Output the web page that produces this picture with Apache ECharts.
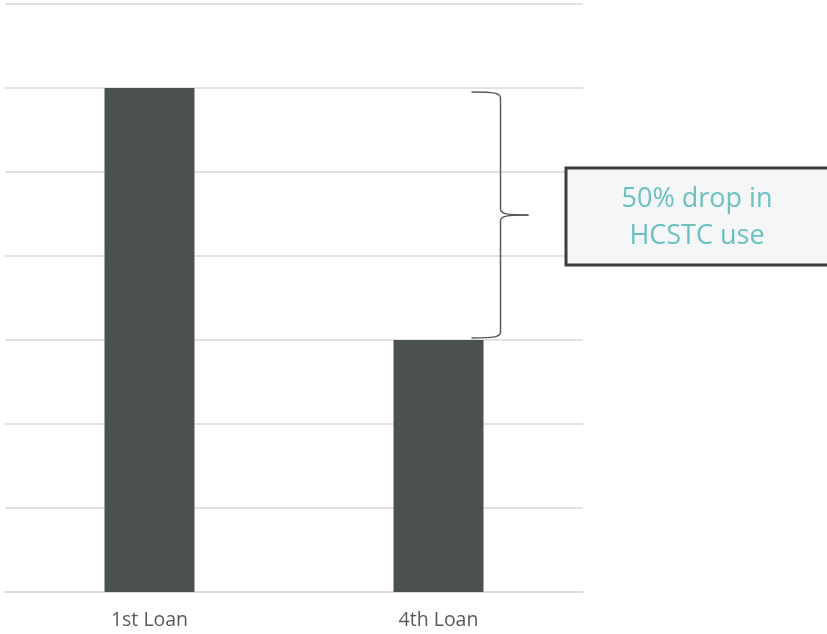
<!DOCTYPE html>
<html>
<head>
<meta charset="utf-8">
<script src="https://cdn.jsdelivr.net/npm/echarts@6/dist/echarts.min.js"></script>
<style>html,body{margin:0;padding:0;background:#fff;}#c{width:827px;height:634px;}</style>
</head>
<body>
<div id="c"></div>
<script>
var categories = ['1st Loan', '4th Loan'];
var values = [6, 3];
var annotationText = ['50% drop in', 'HCSTC use'];

var chart = echarts.init(document.getElementById('c'), null, {renderer: 'canvas'});
chart.setOption({
  animation: false,
  grid: {left: 5, right: 244, top: 4, bottom: 42, containLabel: false},
  xAxis: {
    type: 'category',
    data: categories,
    axisLine: {lineStyle: {color: '#d9d9d9', width: 1.5}},
    axisTick: {show: false},
    axisLabel: {color: '#595959', fontSize: 19.5, fontFamily: 'Open Sans', margin: 18}
  },
  yAxis: {
    type: 'value', min: 0, max: 7, interval: 1,
    axisLabel: {show: false}, axisLine: {show: false}, axisTick: {show: false},
    splitLine: {lineStyle: {color: '#d9d9d9', width: 1.5}}
  },
  series: [{
    type: 'bar', data: values, barWidth: 90,
    itemStyle: {color: '#4b5150'}
  }]
});

var top6 = chart.convertToPixel({gridIndex: 0}, [1, values[0]]);
var bot3 = chart.convertToPixel({gridIndex: 0}, [1, values[1]]);
var yt = top6[1] + 4, yb = bot3[1] - 2, ym = (yt + yb) / 2;
var x0 = bot3[0] + 33, x1 = x0 + 29, xp = x0 + 57;
var st = {fill: null, stroke: '#595959', lineWidth: 1.5};
function bz(a, b, c, d, e, f, g, h) {
  return {type: 'bezierCurve', shape: {x1: a, y1: b, x2: c, y2: d, cpx1: e, cpy1: f, cpx2: g, cpy2: h}, style: st};
}
function ln(a, b, c, d) {
  return {type: 'line', shape: {x1: a, y1: b, x2: c, y2: d}, style: st};
}

chart.setOption({
  graphic: [
    bz(x0, yt, x1, yt + 6, x1 - 6, yt, x1, yt + 1),
    ln(x1, yt + 6, x1, ym - 6),
    bz(x1, ym - 6, xp, ym, x1, ym - 1, x1 + 6, ym),
    bz(x1, ym + 6, xp, ym, x1, ym + 1, x1 + 6, ym),
    ln(x1, ym + 6, x1, yb - 6),
    bz(x0, yb, x1, yb - 6, x1 - 6, yb, x1, yb - 1),
    {type: 'rect', shape: {x: 566, y: 168, width: 264, height: 97},
     style: {fill: '#f5f6f8', stroke: '#3c3c3c', lineWidth: 3}},
    {type: 'text', x: 697, y: 199, style: {text: annotationText[0], fill: '#6cc0c0', font: '27px "Open Sans"', align: 'center', verticalAlign: 'middle'}},
    {type: 'text', x: 697, y: 236, style: {text: annotationText[1], fill: '#6cc0c0', font: '27px "Open Sans"', align: 'center', verticalAlign: 'middle'}}
  ]
});
</script>
</body>
</html>
